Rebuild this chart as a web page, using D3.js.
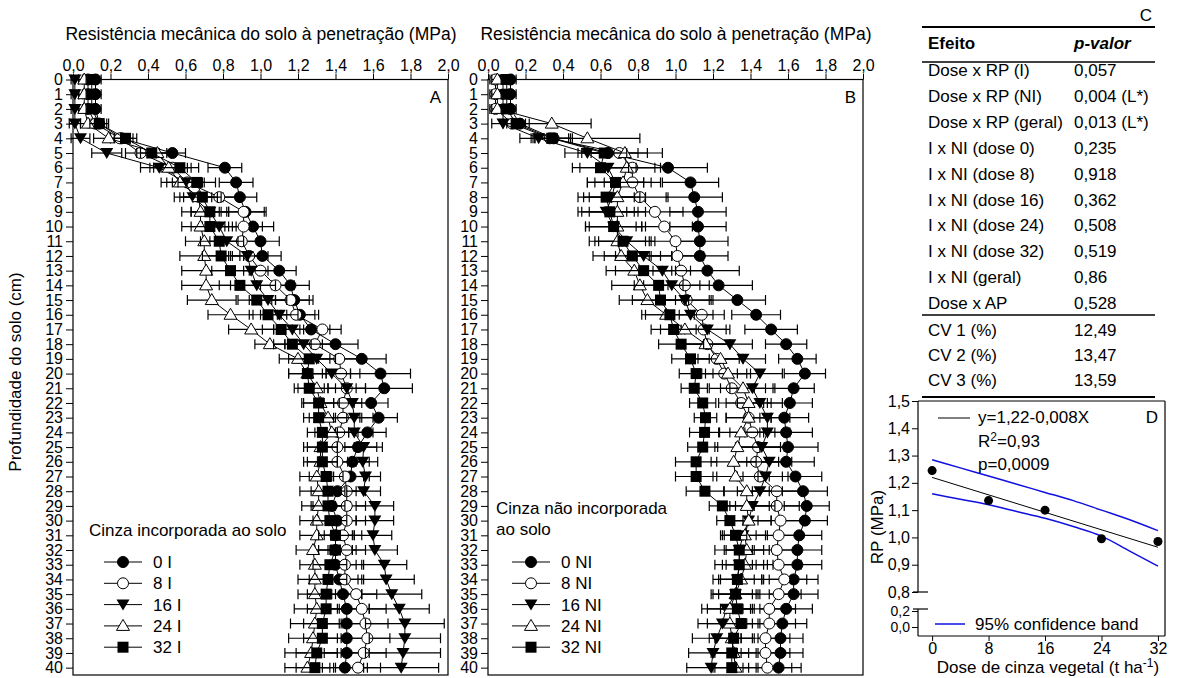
<!DOCTYPE html>
<html><head><meta charset="utf-8">
<script src="https://cdn.jsdelivr.net/npm/d3@7"></script>
<style>body{margin:0;background:#fff}svg{display:block}text{font-family:"Liberation Sans",Arial,sans-serif;fill:#000}</style>
</head><body><svg id="c" width="1177" height="678"></svg>
<script>
// ---------- DATA ----------
const depths = [0,1,2,3,4,5,6,7,8,9,10,11,12,13,14,15,16,17,18,19,20,21,22,23,24,25,26,27,28,29,30,31,32,33,34,35,36,37,38,39,40];
const xTicks = [0,0.2,0.4,0.6,0.8,1.0,1.2,1.4,1.6,1.8,2.0];
// Panel A: ash incorporated (I)
const I0  = [0.12,0.12,0.12,0.14,0.26,0.53,0.81,0.87,0.89,0.92,0.96,1.00,1.01,1.10,1.16,1.18,1.21,1.27,1.40,1.54,1.64,1.66,1.59,1.63,1.57,1.52,1.49,1.48,1.41,1.38,1.41,1.40,1.40,1.40,1.42,1.44,1.46,1.46,1.46,1.46,1.45];
const I8  = [0.08,0.08,0.08,0.12,0.25,0.36,0.53,0.61,0.78,0.91,0.91,0.90,0.94,1.00,1.08,1.16,1.19,1.33,1.29,1.42,1.43,1.46,1.44,1.44,1.42,1.41,1.41,1.45,1.46,1.46,1.46,1.44,1.46,1.45,1.45,1.51,1.54,1.56,1.57,1.55,1.52];
const I16 = [0.01,0.01,0.01,0.01,0.04,0.18,0.46,0.60,0.64,0.73,0.78,0.82,0.93,0.95,0.98,1.04,1.10,1.17,1.23,1.30,1.38,1.46,1.49,1.50,1.50,1.55,1.545,1.56,1.55,1.61,1.61,1.60,1.61,1.66,1.67,1.70,1.74,1.77,1.77,1.76,1.75];
const I24 = [0.06,0.06,0.06,0.08,0.19,0.45,0.51,0.57,0.67,0.68,0.68,0.70,0.70,0.71,0.71,0.74,0.84,0.95,1.05,1.20,1.25,1.30,1.32,1.36,1.38,1.32,1.32,1.30,1.31,1.31,1.30,1.30,1.28,1.29,1.29,1.29,1.30,1.29,1.28,1.27,1.25];
const I32 = [0.10,0.10,0.10,0.14,0.28,0.42,0.57,0.66,0.69,0.73,0.73,0.78,0.79,0.84,0.89,0.98,1.04,1.11,1.17,1.26,1.25,1.26,1.31,1.31,1.33,1.33,1.33,1.35,1.36,1.36,1.37,1.40,1.40,1.37,1.36,1.35,1.35,1.33,1.33,1.30,1.29];
const eI0  = [0.03,0.03,0.03,0.04,0.06,0.07,0.09,0.09,0.09,0.10,0.11,0.10,0.10,0.09,0.10,0.10,0.10,0.10,0.12,0.13,0.16,0.15,0.09,0.10,0.10,0.10,0.09,0.10,0.10,0.10,0.10,0.10,0.11,0.11,0.12,0.10,0.12,0.12,0.12,0.12,0.12];
const eI8  = [0.03,0.03,0.03,0.04,0.05,0.08,0.10,0.08,0.12,0.12,0.10,0.10,0.10,0.09,0.10,0.10,0.10,0.10,0.10,0.11,0.10,0.10,0.10,0.10,0.10,0.09,0.10,0.10,0.10,0.10,0.10,0.10,0.10,0.10,0.10,0.11,0.13,0.12,0.12,0.12,0.12];
const eI16 = [0.02,0.02,0.02,0.03,0.05,0.08,0.10,0.10,0.10,0.10,0.09,0.09,0.08,0.09,0.10,0.10,0.10,0.10,0.10,0.10,0.10,0.10,0.10,0.10,0.10,0.10,0.08,0.08,0.09,0.10,0.10,0.10,0.12,0.12,0.15,0.16,0.16,0.21,0.19,0.20,0.20];
const eI24 = [0.03,0.03,0.03,0.04,0.08,0.09,0.10,0.10,0.10,0.10,0.10,0.10,0.13,0.13,0.13,0.13,0.12,0.12,0.08,0.10,0.10,0.10,0.10,0.10,0.09,0.09,0.09,0.09,0.10,0.09,0.09,0.09,0.09,0.08,0.09,0.09,0.12,0.13,0.13,0.14,0.12];
const eI32 = [0.03,0.03,0.03,0.05,0.06,0.08,0.10,0.10,0.10,0.10,0.10,0.10,0.10,0.10,0.11,0.10,0.10,0.10,0.10,0.11,0.10,0.08,0.08,0.08,0.08,0.08,0.08,0.09,0.09,0.09,0.09,0.09,0.09,0.09,0.10,0.10,0.10,0.10,0.10,0.11,0.10];
// Panel B: ash not incorporated (NI)
const N0  = [0.12,0.12,0.12,0.17,0.35,0.64,0.96,1.08,1.10,1.12,1.12,1.13,1.13,1.17,1.23,1.33,1.43,1.51,1.59,1.65,1.69,1.63,1.61,1.58,1.59,1.60,1.59,1.64,1.68,1.70,1.69,1.66,1.65,1.65,1.63,1.63,1.59,1.57,1.56,1.56,1.55];
const N8  = [0.04,0.04,0.04,0.13,0.33,0.70,0.77,0.77,0.81,0.89,0.94,1.00,1.01,1.03,1.05,1.06,1.14,1.15,1.17,1.22,1.26,1.30,1.35,1.39,1.41,1.44,1.43,1.45,1.54,1.54,1.56,1.55,1.54,1.55,1.58,1.55,1.50,1.50,1.48,1.48,1.49];
const N16 = [0.08,0.08,0.08,0.08,0.27,0.53,0.64,0.68,0.66,0.63,0.67,0.74,0.83,0.93,0.98,1.05,1.08,1.17,1.29,1.36,1.45,1.41,1.45,1.49,1.49,1.46,1.50,1.48,1.45,1.41,1.39,1.36,1.34,1.34,1.33,1.32,1.27,1.25,1.22,1.20,1.19];
const N24 = [0.05,0.05,0.05,0.34,0.53,0.73,0.74,0.72,0.69,0.69,0.69,0.69,0.71,0.78,0.81,0.85,0.95,1.05,1.16,1.24,1.28,1.36,1.39,1.39,1.35,1.33,1.31,1.32,1.38,1.38,1.39,1.37,1.38,1.37,1.35,1.32,1.29,1.29,1.30,1.31,1.32];
const N32 = [0.10,0.10,0.10,0.15,0.34,0.62,0.60,0.68,0.63,0.65,0.67,0.72,0.77,0.83,0.91,0.92,0.97,0.99,1.03,1.08,1.11,1.10,1.145,1.16,1.155,1.145,1.11,1.11,1.157,1.25,1.29,1.32,1.34,1.34,1.33,1.32,1.33,1.35,1.31,1.30,1.30];
const eN0  = [0.03,0.03,0.03,0.05,0.10,0.16,0.21,0.15,0.15,0.15,0.15,0.15,0.15,0.17,0.18,0.15,0.13,0.14,0.11,0.10,0.11,0.11,0.12,0.13,0.14,0.16,0.15,0.14,0.13,0.12,0.12,0.12,0.13,0.13,0.13,0.13,0.14,0.13,0.12,0.12,0.12];
const eN8  = [0.03,0.03,0.03,0.05,0.10,0.15,0.15,0.15,0.15,0.15,0.15,0.14,0.14,0.15,0.13,0.13,0.12,0.12,0.12,0.12,0.12,0.12,0.12,0.12,0.12,0.12,0.12,0.12,0.13,0.12,0.12,0.12,0.12,0.12,0.12,0.12,0.14,0.14,0.13,0.13,0.13];
const eN16 = [0.03,0.03,0.03,0.06,0.10,0.12,0.15,0.15,0.15,0.15,0.15,0.15,0.15,0.15,0.15,0.15,0.12,0.12,0.12,0.12,0.12,0.12,0.12,0.12,0.12,0.12,0.12,0.12,0.12,0.12,0.12,0.12,0.13,0.13,0.13,0.13,0.13,0.13,0.13,0.13,0.13];
const eN24 = [0.03,0.03,0.03,0.21,0.28,0.20,0.15,0.15,0.15,0.15,0.15,0.15,0.15,0.15,0.15,0.15,0.13,0.13,0.13,0.12,0.12,0.12,0.12,0.12,0.12,0.12,0.12,0.12,0.12,0.12,0.12,0.12,0.12,0.12,0.12,0.12,0.12,0.12,0.12,0.12,0.12];
const eN32 = [0.03,0.03,0.03,0.05,0.10,0.12,0.15,0.15,0.15,0.15,0.15,0.15,0.15,0.15,0.13,0.15,0.13,0.12,0.12,0.10,0.09,0.07,0.07,0.06,0.08,0.08,0.11,0.11,0.10,0.07,0.07,0.06,0.07,0.07,0.09,0.09,0.09,0.10,0.10,0.09,0.09];
const labelsI  = ["0 I","8 I","16 I","24 I","32 I"];
const labelsNI = ["0 NI","8 NI","16 NI","24 NI","32 NI"];
// Panel C table
const effects = ["Dose x RP (I)","Dose x RP (NI)","Dose x RP (geral)","I x NI (dose 0)","I x NI (dose 8)","I x NI (dose 16)","I x NI (dose 24)","I x NI (dose 32)","I x NI (geral)","Dose x AP"];
const pvals   = ["0,057","0,004 (L*)","0,013 (L*)","0,235","0,918","0,362","0,508","0,519","0,86","0,528"];
const cvNames = ["CV 1 (%)","CV 2 (%)","CV 3 (%)"];
const cvVals  = ["12,49","13,47","13,59"];
// Panel D
const doses  = [0,8,16,24,32];
const rpMean = [1.245,1.135,1.10,0.995,0.985];
const fitX = [0,32];
const fitY = [1.22,0.964];
const bandX = [0,4,8,12,16,20,24,28,32];
const bandUp = [1.285,1.255,1.225,1.195,1.165,1.135,1.10,1.065,1.025];
const bandLo = [1.16,1.14,1.12,1.095,1.07,1.04,1.005,0.95,0.895];
const dTicksUp = [0.8,0.9,1.0,1.1,1.2,1.3,1.4,1.5];
const dTicksLo = [0.0,0.2];

// ---------- DRAW ----------
const svg = d3.select("#c");
const fmt1 = v => d3.format(".1f")(v).replace(".", ",");
const FS = 16, FT = 17;
const shapes = ["circleF","circleO","triDown","triUp","square"];
function marker(g, type, x, y){
  if(type==="circleF"||type==="circleO"){
    g.append("circle").attr("cx",x).attr("cy",y).attr("r",5.5)
     .attr("fill", type==="circleF"?"#000":"#fff").attr("stroke","#000").attr("stroke-width",1);
  } else if(type==="square"){
    g.append("rect").attr("x",x-5.5).attr("y",y-5.5).attr("width",11).attr("height",11).attr("fill","#000");
  } else if(type==="triDown"){
    g.append("path").attr("d",`M${x},${y+6}L${x+6.5},${y-5}L${x-6.5},${y-5}Z`).attr("fill","#000");
  } else {
    g.append("path").attr("d",`M${x},${y-6.5}L${x+6.5},${y+4.5}L${x-6.5},${y+4.5}Z`).attr("fill","#fff").attr("stroke","#000").attr("stroke-width",1);
  }
}

const yS = d3.scaleLinear().domain([0,40.5]).range([79.5,675]);

function panel(x0, series, errs, letter, legendLabels, legendPos){
  const xS = d3.scaleLinear().domain([0,2]).range([x0, x0+375]);
  const g = svg.append("g");
  g.append("rect").attr("x",x0).attr("y",yS(0)).attr("width",375).attr("height",yS(40.5)-yS(0))
   .attr("fill","none").attr("stroke","#000").attr("stroke-width",1.2);
  const ax = g.append("g").attr("transform",`translate(0,${yS(0)})`)
    .call(d3.axisTop(xS).tickValues(xTicks).tickFormat(fmt1).tickSize(6).tickSizeOuter(0));
  ax.select(".domain").remove();
  ax.selectAll("text").attr("font-size",FS).attr("dy","0.05em");
  ax.selectAll("line").attr("stroke","#000");
  const ay = g.append("g").attr("transform",`translate(${x0},0)`)
    .call(d3.axisLeft(yS).tickValues(depths).tickFormat(d=>d).tickSize(7).tickSizeOuter(0).tickPadding(3));
  ay.select(".domain").remove();
  ay.selectAll("text").attr("font-size",FS);
  ay.selectAll("line").attr("stroke","#000");
  g.append("text").attr("x",x0+188).attr("y",40).attr("text-anchor","middle").attr("font-size",17.5)
   .text("Resistência mecânica do solo à penetração (MPa)");
  g.append("text").attr("x",x0+368).attr("y",103).attr("text-anchor","end").attr("font-size",FT).text(letter);
  series.forEach((s,k)=>{
    const sg = g.append("g");
    const e = errs[k];
    depths.forEach((d,i)=>{
      const y = yS(d), xl = xS(s[i]-e[i]), xr = xS(s[i]+e[i]);
      sg.append("line").attr("x1",xl).attr("x2",xr).attr("y1",y).attr("y2",y).attr("stroke","#000").attr("stroke-width",1.2);
      [xl,xr].forEach(xx=>sg.append("line").attr("x1",xx).attr("x2",xx).attr("y1",y-5).attr("y2",y+5).attr("stroke","#000").attr("stroke-width",1.2));
    });
    sg.append("path").datum(s).attr("fill","none").attr("stroke","#000").attr("stroke-width",1)
      .attr("d", d3.line().x(v=>xS(v)).y((v,i)=>yS(depths[i])));
    depths.forEach((d,i)=>marker(sg, shapes[k], xS(s[i]), yS(d)));
  });
  const [lx, ly, lines, mx] = legendPos;
  lines.forEach((t,i)=>g.append("text").attr("x",lx).attr("y",ly+i*21).attr("font-size",FT).text(t));
  legendLabels.forEach((t,i)=>{
    const y = 562 + i*21.3;
    g.append("line").attr("x1",mx-19).attr("x2",mx+19).attr("y1",y).attr("y2",y).attr("stroke","#000");
    marker(g, shapes[i], mx, y);
    g.append("text").attr("x",mx+30).attr("y",y+6).attr("font-size",FT).text(t);
  });
}

panel(73, [I0,I8,I16,I24,I32], [eI0,eI8,eI16,eI24,eI32], "A", labelsI, [89, 536, ["Cinza incorporada ao solo"], 123]);
panel(488,[N0,N8,N16,N24,N32], [eN0,eN8,eN16,eN24,eN32], "B", labelsNI, [496, 514, ["Cinza não incorporada","ao solo"], 531]);

svg.append("text").attr("transform","translate(21,372) rotate(-90)").attr("text-anchor","middle").attr("font-size",FT)
  .text("Profundidade do solo (cm)");

// ---------- Panel C table ----------
const tC = svg.append("g");
const tx0 = 922, tx1 = 1155, c1 = 928, c2 = 1074;
tC.append("text").attr("x",1152).attr("y",21).attr("text-anchor","end").attr("font-size",FT).text("C");
[[27,2],[62,1.5],[315,1.5],[397,2]].forEach(([y,w])=>tC.append("line").attr("x1",tx0).attr("x2",tx1).attr("y1",y).attr("y2",y).attr("stroke","#000").attr("stroke-width",w));
tC.append("text").attr("x",c1).attr("y",49).attr("font-size",FT).attr("font-weight","bold").text("Efeito");
tC.append("text").attr("x",c2).attr("y",49).attr("font-size",FT).attr("font-weight","bold").attr("font-style","italic").text("p-valor");
effects.forEach((t,i)=>{
  const y = 76 + i*25.9;
  tC.append("text").attr("x",c1).attr("y",y).attr("font-size",FT).text(t);
  tC.append("text").attr("x",c2).attr("y",y).attr("font-size",FT).text(pvals[i]);
});
cvNames.forEach((t,i)=>{
  const y = 336 + i*25;
  tC.append("text").attr("x",c1).attr("y",y).attr("font-size",FT).text(t);
  tC.append("text").attr("x",c2).attr("y",y).attr("font-size",FT).text(cvVals[i]);
});

// ---------- Panel D ----------
const gD = svg.append("g");
const xD = d3.scaleLinear().domain([-2,33]).range([918,1165]);
const yU = d3.scaleLinear().domain([0.8,1.5]).range([592,401]);
const yL = d3.scaleLinear().domain([0,0.2]).range([627,611]);
const dBottom = 636, dL = 918, dR = 1165, dT = 401;
const fr = gD.append("g").attr("stroke","#000").attr("stroke-width",1.2);
fr.append("line").attr("x1",dL).attr("x2",dR).attr("y1",dT).attr("y2",dT);
fr.append("line").attr("x1",dR).attr("x2",dR).attr("y1",dT).attr("y2",dBottom);
fr.append("line").attr("x1",dL).attr("x2",dR).attr("y1",dBottom).attr("y2",dBottom);
fr.append("line").attr("x1",dL).attr("x2",dL).attr("y1",dT).attr("y2",yU(0.8));
fr.append("line").attr("x1",dL).attr("x2",dL).attr("y1",yL(0.2)-2).attr("y2",dBottom);
fr.append("line").attr("x1",dL-5).attr("x2",dL+10).attr("y1",yU(0.8)).attr("y2",yU(0.8));
fr.append("line").attr("x1",dL-5).attr("x2",dL+10).attr("y1",yL(0.2)-2).attr("y2",yL(0.2)-2);
const ayU = gD.append("g").attr("transform",`translate(${dL},0)`).call(d3.axisLeft(yU).tickValues(dTicksUp).tickFormat(fmt1).tickSize(6).tickSizeOuter(0).tickPadding(2));
ayU.select(".domain").remove();
ayU.selectAll("text").attr("font-size",FS);
const ayL = gD.append("g").attr("transform",`translate(${dL},0)`).call(d3.axisLeft(yL).tickValues(dTicksLo).tickFormat(fmt1).tickSize(6).tickSizeOuter(0).tickPadding(2));
ayL.select(".domain").remove();
ayL.selectAll("text").attr("font-size",14);
const axD = gD.append("g").attr("transform",`translate(0,${dBottom})`).call(d3.axisBottom(xD).tickValues(doses).tickSize(5).tickSizeOuter(0).tickPadding(2));
axD.select(".domain").remove();
axD.selectAll("text").attr("font-size",FS);
const bandLine = d3.line().curve(d3.curveMonotoneX);
gD.append("path").attr("d",bandLine(bandX.map((x,i)=>[xD(x),yU(bandUp[i])]))).attr("fill","none").attr("stroke","#1010e0").attr("stroke-width",1.5);
gD.append("path").attr("d",bandLine(bandX.map((x,i)=>[xD(x),yU(bandLo[i])]))).attr("fill","none").attr("stroke","#1010e0").attr("stroke-width",1.5);
gD.append("line").attr("x1",xD(fitX[0])).attr("x2",xD(fitX[1])).attr("y1",yU(fitY[0])).attr("y2",yU(fitY[1])).attr("stroke","#000");
doses.forEach((d,i)=>gD.append("circle").attr("cx",xD(d)).attr("cy",yU(rpMean[i])).attr("r",4.5).attr("fill","#000"));
gD.append("line").attr("x1",938).attr("x2",970).attr("y1",418).attr("y2",418).attr("stroke","#000");
gD.append("text").attr("x",978).attr("y",423).attr("font-size",FT).text("y=1,22-0,008X");
const r2 = gD.append("text").attr("x",978).attr("y",447).attr("font-size",FT);
r2.append("tspan").text("R");
r2.append("tspan").attr("dy",-6).attr("font-size",12).text("2");
r2.append("tspan").attr("dy",6).text("=0,93");
gD.append("text").attr("x",978).attr("y",470).attr("font-size",FT).text("p=0,0009");
gD.append("text").attr("x",1158).attr("y",423).attr("text-anchor","end").attr("font-size",FT).text("D");
gD.append("line").attr("x1",935).attr("x2",965).attr("y1",624).attr("y2",624).attr("stroke","#1010e0").attr("stroke-width",1.5);
gD.append("text").attr("x",975).attr("y",630).attr("font-size",FT).text("95% confidence band");
svg.append("text").attr("transform","translate(883,527) rotate(-90)").attr("text-anchor","middle").attr("font-size",FT).text("RP (MPa)");
const xt = svg.append("text").attr("x",1048).attr("y",673).attr("text-anchor","middle").attr("font-size",FT);
xt.append("tspan").text("Dose de cinza vegetal (t ha");
xt.append("tspan").attr("dy",-6).attr("font-size",12).text("-1");
xt.append("tspan").attr("dy",6).text(")");
</script></body></html>
